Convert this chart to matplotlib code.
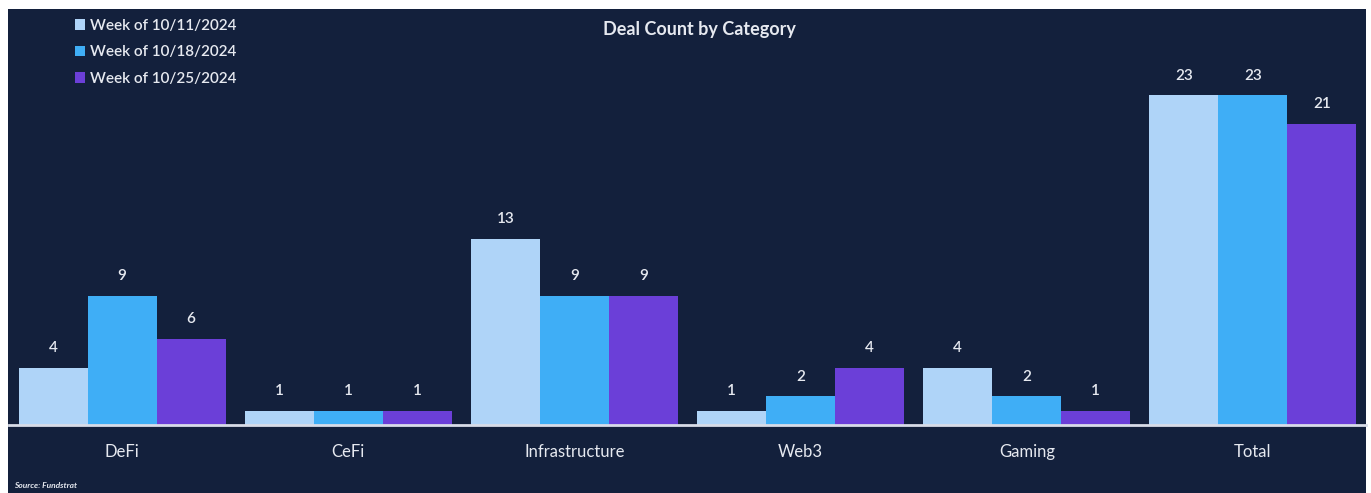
import matplotlib
matplotlib.use("Agg")
import matplotlib.pyplot as plt
from matplotlib.patches import Rectangle
import numpy as np

categories = ["DeFi", "CeFi", "Infrastructure", "Web3", "Gaming", "Total"]
series_names = ["Week of 10/11/2024", "Week of 10/18/2024", "Week of 10/25/2024"]
week_1011 = [4, 1, 13, 1, 4, 23]
week_1018 = [9, 1, 9, 2, 2, 23]
week_1025 = [6, 1, 9, 4, 1, 21]
colors = ["#AFD4F8", "#3FAEF6", "#6B3FD8"]

BG = "#13203C"
TXT = "#E6E9F0"
plt.rcParams['font.family'] = ['Lato', 'DejaVu Sans']

W, H = 1371, 493
fig = plt.figure(figsize=(W / 100, H / 100), dpi=100, facecolor="white")
# dark panel
fig.patches.append(Rectangle((8 / W, 0), (1366 - 8) / W, (H - 9) / H,
                             transform=fig.transFigure, facecolor=BG,
                             edgecolor="none", zorder=-10))

ax_left, ax_right = 9, 1366
ax_bottom_px, ax_top_px = 425, 9
ax = fig.add_axes([ax_left / W, (H - ax_bottom_px) / H,
                   (ax_right - ax_left) / W, (ax_bottom_px - ax_top_px) / H])
ax.set_facecolor("none")

x = np.arange(len(categories))
bw = 0.305
all_series = [week_1011, week_1018, week_1025]
for i, (vals, name, c) in enumerate(zip(all_series, series_names, colors)):
    bars = ax.bar(x + (i - 1) * bw, vals, width=bw, color=c, label=name, zorder=2)
    for b, v in zip(bars, vals):
        ax.annotate(str(v), (b.get_x() + b.get_width() / 2, v),
                    xytext=(0, 9), textcoords="offset points", ha="center",
                    va="bottom", color=TXT, fontsize=11, fontweight="semibold")

ax.set_xlim(-0.5, 5.5)
ax.set_ylim(0, 29)
ax.set_yticks([])
ax.set_xticks(x)
ax.set_xticklabels(categories, color=TXT, fontsize=12)
ax.tick_params(axis="x", length=0, pad=14)
for s in ["top", "right", "left"]:
    ax.spines[s].set_visible(False)
ax.spines["bottom"].set_color("#D8DCE8")
ax.spines["bottom"].set_linewidth(2)
ax.spines["bottom"].set_zorder(3)

leg = ax.legend(loc="upper left", bbox_to_anchor=(64 / W, (H - 8) / H),
                bbox_transform=fig.transFigure, frameon=False, fontsize=11,
                handlelength=0.7, handleheight=0.7, handletextpad=0.3,
                labelspacing=0.82, borderpad=0.2)
for t in leg.get_texts():
    t.set_color(TXT)
    t.set_fontweight("semibold")

fig.text(699 / W, (H - 30) / H, "Deal Count by Category", ha="center", va="center",
         color=TXT, fontsize=13, fontweight="bold")
fig.text(14 / W, (H - 486) / H, "Source: Fundstrat", ha="left", va="center",
         color=TXT, fontsize=6, fontweight="bold", style="italic")

fig.savefig("out.png", dpi=100, facecolor="white")
